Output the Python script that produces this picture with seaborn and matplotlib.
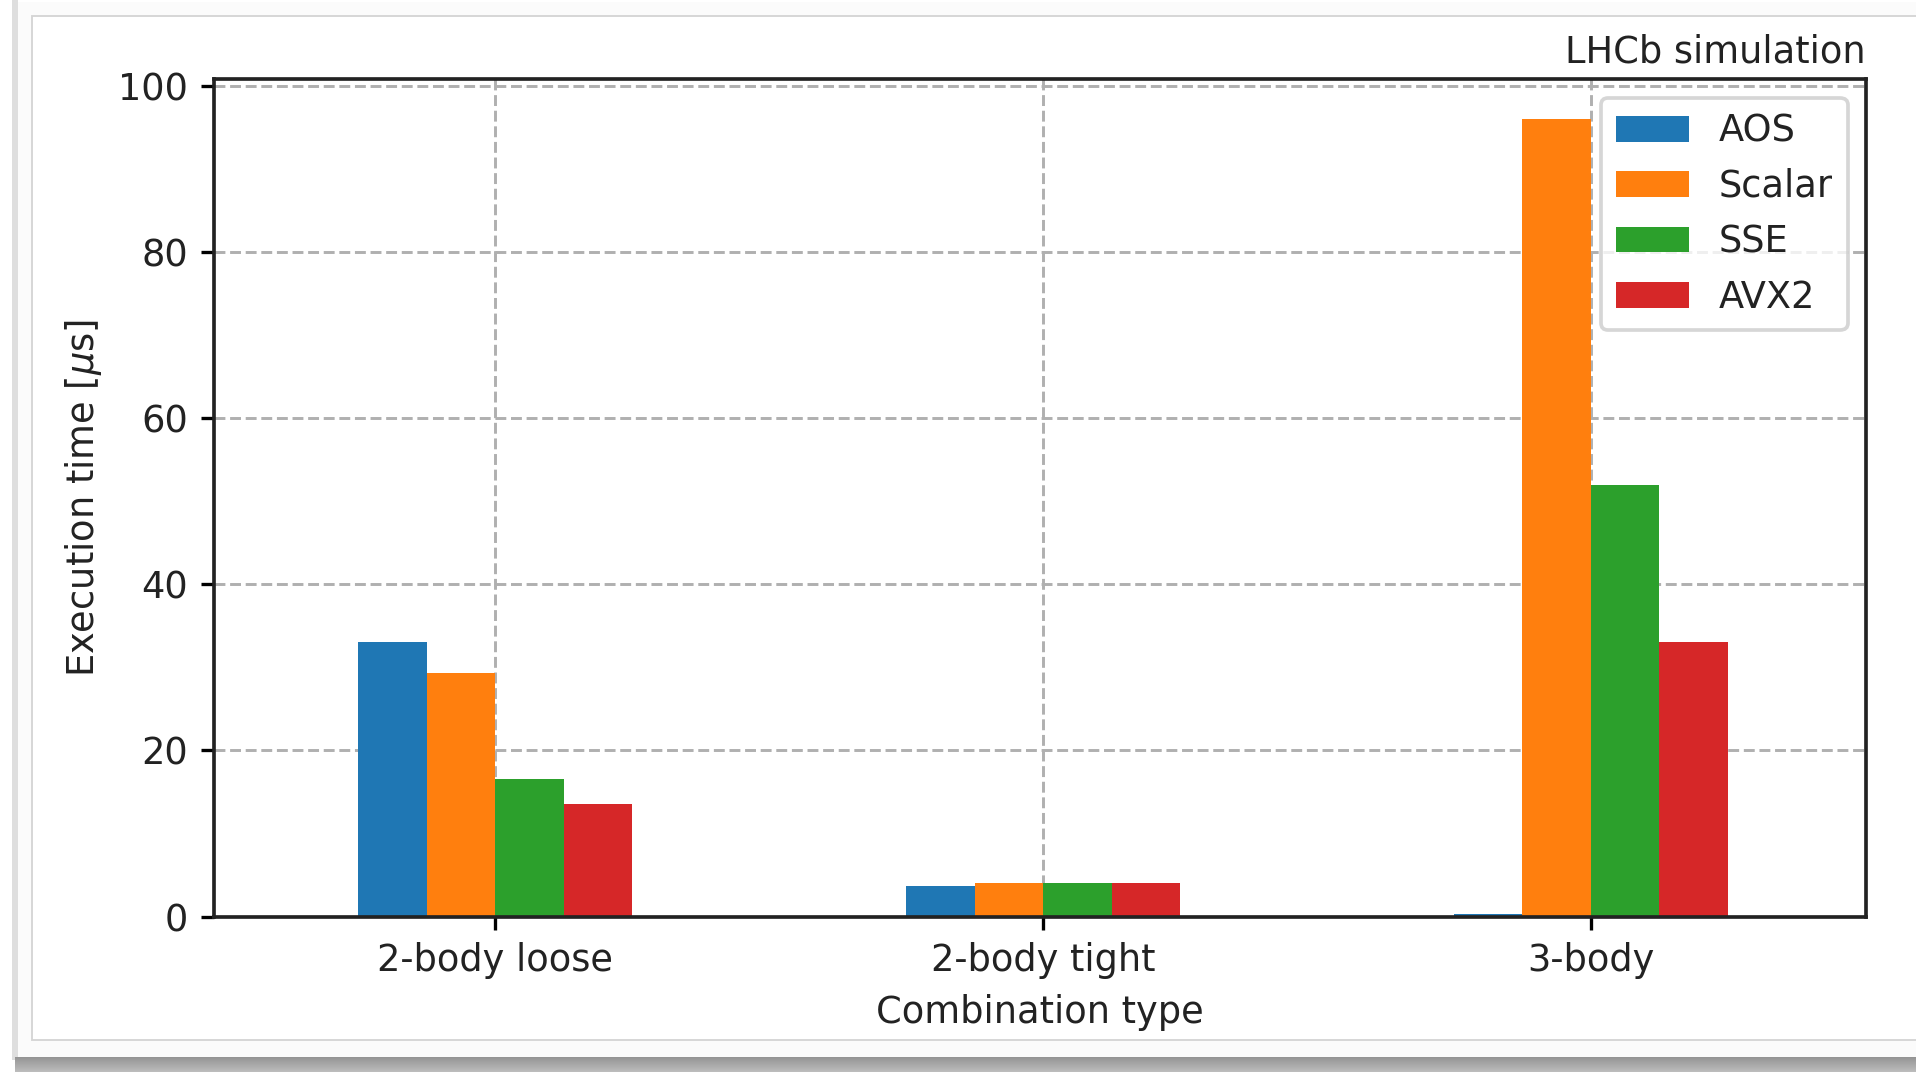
import numpy as np
import pandas as pd
import matplotlib
matplotlib.use("Agg")
import matplotlib.pyplot as plt
from matplotlib.patches import Rectangle
import seaborn as sns

# Execution time per combination type and implementation
categories = ["2-body loose", "2-body tight", "3-body"]
implementations = ["AOS", "Scalar", "SSE", "AVX2"]
aos = [33.0, 3.7, 0.25]
scalar = [29.3, 4.0, 96.0]
sse = [16.5, 4.0, 51.9]
avx2 = [13.5, 4.0, 33.0]
yticks = [0, 20, 40, 60, 80, 100]
colors = ["#1f77b4", "#ff7f0e", "#2ca02c", "#d62728"]

series = {"AOS": aos, "Scalar": scalar, "SSE": sse, "AVX2": avx2}
df = pd.DataFrame(
    [(cat, impl, vals[i]) for impl, vals in series.items() for i, cat in enumerate(categories)],
    columns=["category", "impl", "time"],
)

W, H, DPI = 1916, 1072, 265
fig = plt.figure(figsize=(W / DPI, H / DPI), dpi=DPI, facecolor="white")


def px_rect(x0, y0, x1, y1, **kw):
    """Rectangle given in pixel coordinates measured from the top-left corner."""
    return Rectangle((x0 / W, 1 - y1 / H), (x1 - x0) / W, (y1 - y0) / H,
                     transform=fig.transFigure, **kw)


# window-style panel behind the plot
fig.add_artist(px_rect(12, 0, 18, 1060, facecolor="#dedede", edgecolor="none", zorder=-3))
fig.add_artist(px_rect(18, 2, W + 5, 1057, facecolor="#fbfbfb", edgecolor="none", zorder=-2))
fig.add_artist(px_rect(32, 16, W + 5, 1040, facecolor="white", edgecolor="#d4d4d4",
                       linewidth=0.5, zorder=-1))

# soft shadow along the bottom edge
sh = fig.add_axes([15 / W, 0, 1 - 15 / W, 15 / H], zorder=-1)
grad = np.linspace(0.58, 0.74, 32)[:, None] * np.ones((1, 64))
sh.imshow(grad, cmap="gray", vmin=0, vmax=1, aspect="auto", extent=(0, 1, 0, 1), origin="upper")
sh.set_axis_off()

ax = fig.add_axes([214 / W, 1 - 916.5 / H, (1866 - 214) / W, (916.5 - 79.4) / H])

sns.barplot(data=df, x="category", y="time", hue="impl", hue_order=implementations,
            palette=colors, width=0.5, saturation=1, errorbar=None, ax=ax)

ax.set_axisbelow(True)
ax.grid(True, linestyle="--", color="#b0b0b0", linewidth=0.8)
ax.set_xlim(-0.513, 2.502)
ax.set_ylim(0, max(max(v) for v in series.values()) * 1.05)
ax.set_yticks(yticks)
for s in ax.spines.values():
    s.set_linewidth(1.0)
    s.set_color("#222222")

ax.set_xlabel("Combination type", fontsize=10, color="#222222")
ax.set_ylabel(r"Execution time [$\mu$s]", fontsize=10, color="#222222")
ax.tick_params(labelsize=10, length=3.5, width=0.9, labelcolor="#222222")
ax.set_title("LHCb simulation", loc="right", fontsize=10, pad=4.5, color="#222222")
ax.legend(loc="upper right", fontsize=10, labelcolor="#222222")

fig.savefig("out.png", dpi=DPI, facecolor="white")
